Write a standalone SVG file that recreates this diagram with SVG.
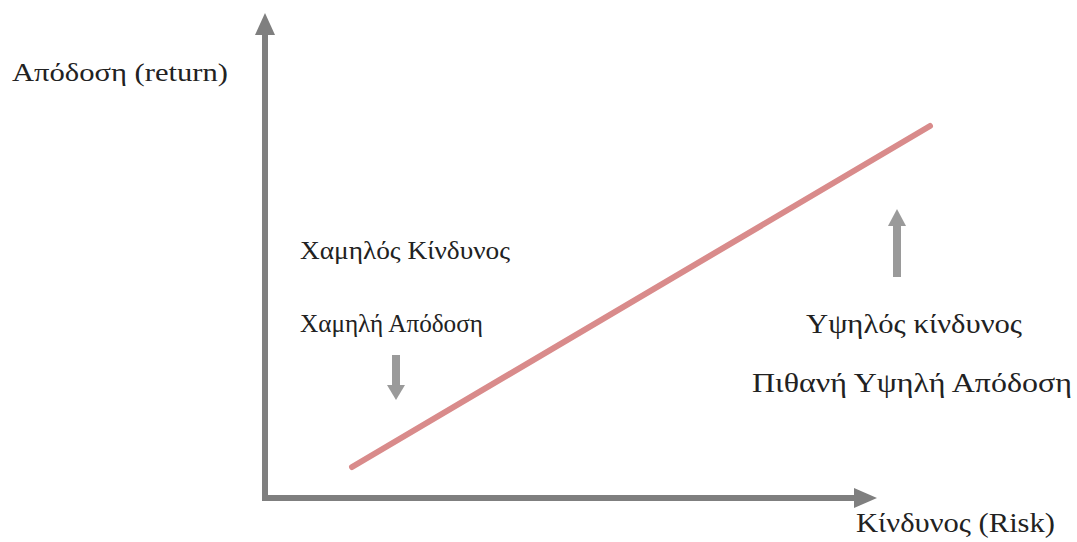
<svg xmlns="http://www.w3.org/2000/svg" width="1077" height="542" viewBox="0 0 1077 542">
<style>
.t{font-family:"Liberation Serif","Times New Roman","DejaVu Serif",serif;fill:#222}
.ax{stroke:#7f7f7f;stroke-width:6;fill:none}
.ah{fill:#7f7f7f}
.sa{stroke:#9a9a9a;stroke-width:8;fill:none}
.sh{fill:#9a9a9a}
</style>
<rect width="1077" height="542" fill="#fff"/>
<g id="connectors">
<path class="ax" d="M265,498 V34"/>
<polygon class="ah" points="265,13 255,35 275,35"/>
<path class="ax" d="M262,498 H856"/>
<polygon class="ah" points="877,498 854,488 854,508"/>
<path d="M352,467 L930,126" stroke="#d98b8b" stroke-width="6" stroke-linecap="round"/>
<path class="sa" d="M396,355 V386"/>
<polygon class="sh" points="396,400 387,385 405,385"/>
<path class="sa" d="M897,277 V224"/>
<polygon class="sh" points="897,209 888,226 906,226"/>
</g>
<g id="y-label"><text class="t" x="12" y="81" font-size="26" textLength="216" lengthAdjust="spacingAndGlyphs">Απόδοση (return)</text></g>
<g id="low-risk"><text class="t" x="300" y="259" font-size="25" textLength="210" lengthAdjust="spacingAndGlyphs">Χαμηλός Κίνδυνος</text></g>
<g id="low-return"><text class="t" x="300" y="332" font-size="25" textLength="183" lengthAdjust="spacingAndGlyphs">Χαμηλή Απόδοση</text></g>
<g id="high-risk"><text class="t" x="806" y="333" font-size="27" textLength="216" lengthAdjust="spacingAndGlyphs">Υψηλός κίνδυνος</text></g>
<g id="high-return"><text class="t" x="752" y="392" font-size="27" textLength="320" lengthAdjust="spacingAndGlyphs">Πιθανή Υψηλή Απόδοση</text></g>
<g id="x-label"><text class="t" x="856" y="532" font-size="27" textLength="199" lengthAdjust="spacingAndGlyphs">Κίνδυνος (Risk)</text></g>
</svg>
